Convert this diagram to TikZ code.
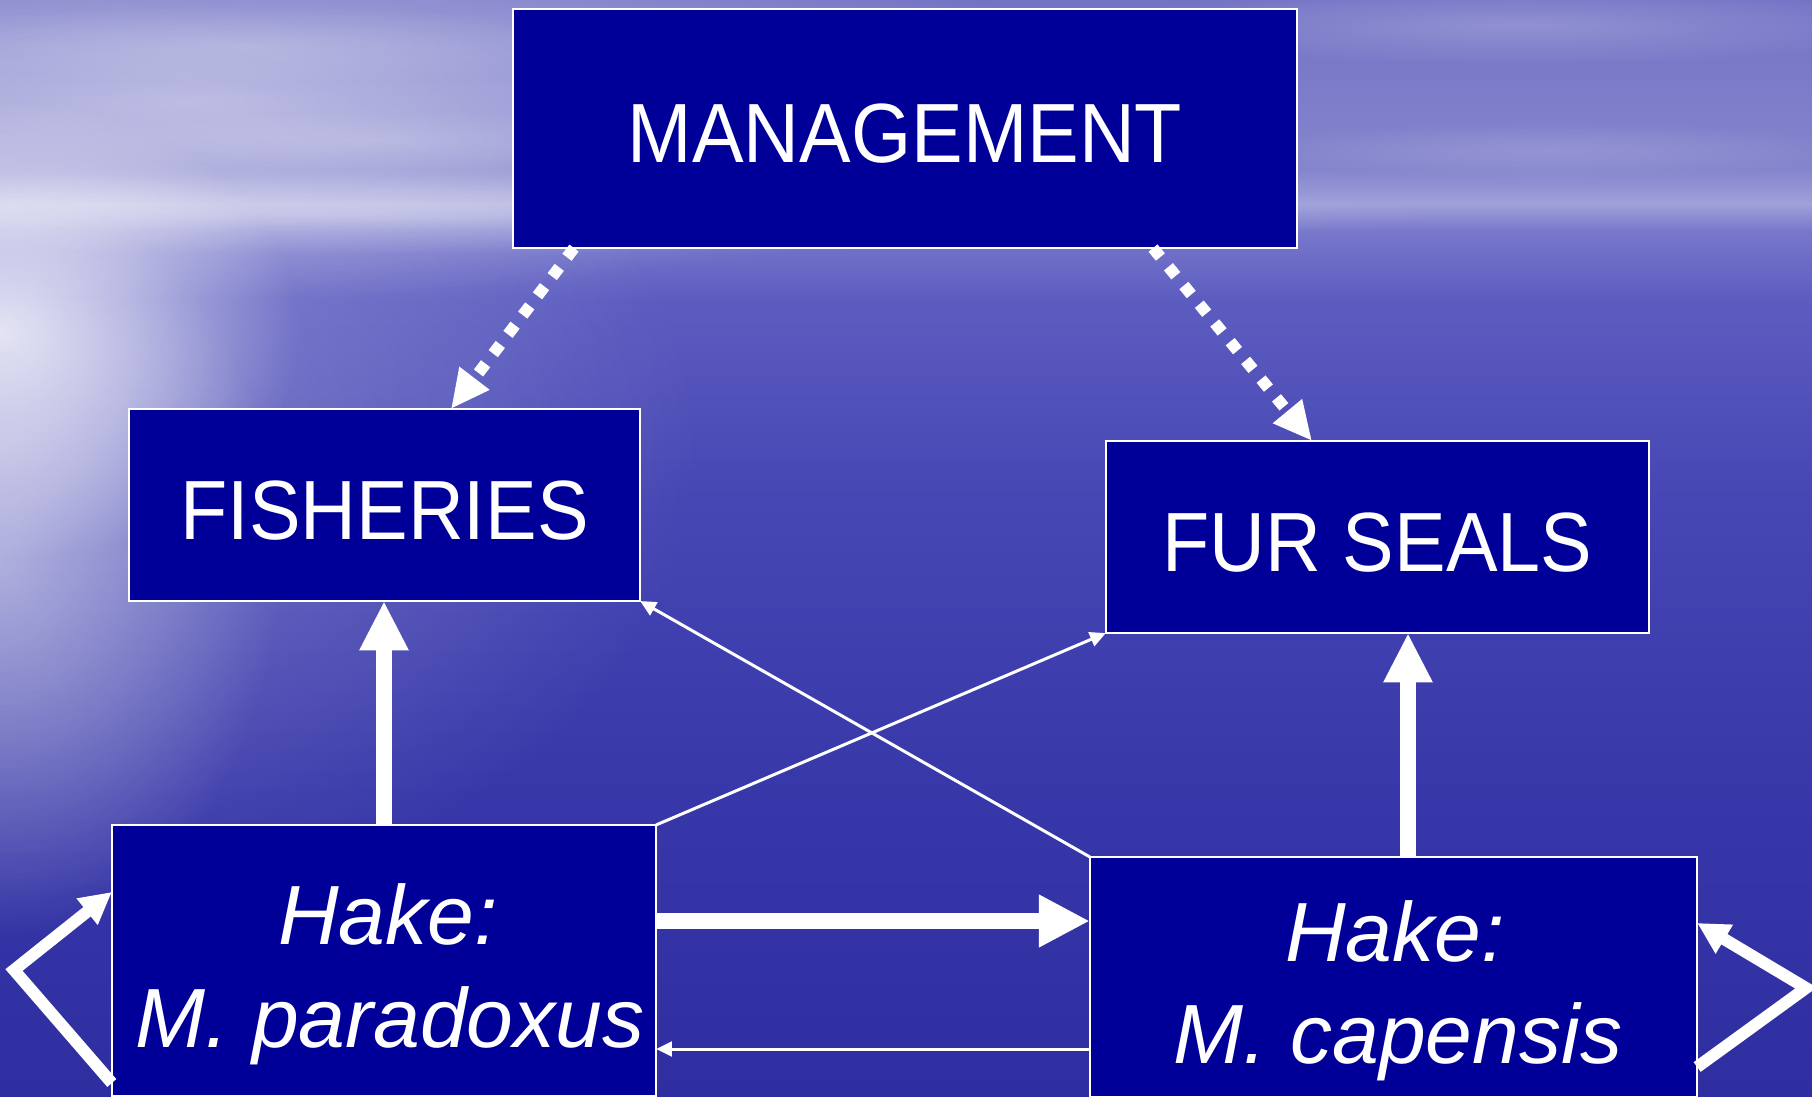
\documentclass[tikz,border=0pt]{standalone}
\usepackage{fontspec}
\setmainfont{Liberation Sans}
\newfontfamily\uprfont[FakeStretch=0.92]{Liberation Sans}
\newfontfamily\hakefont{Liberation Sans}
\usetikzlibrary{arrows.meta,fadings}
\definecolor{boxblue}{RGB}{0,0,153}
\definecolor{sk0}{RGB}{46,46,160}
\definecolor{sk1}{RGB}{55,55,169}
\definecolor{sk2}{RGB}{70,70,180}
\definecolor{sk3}{RGB}{92,92,192}
\definecolor{sk4}{RGB}{120,120,204}
\definecolor{sk5}{RGB}{160,160,218}
\definecolor{sk6}{RGB}{132,132,205}
\definecolor{sk7}{RGB}{115,115,198}
\pgfdeclareverticalshading{seasky}{100bp}{color(0bp)=(sk0); color(25bp)=(sk0); color(38.5bp)=(sk1); color(52.2bp)=(sk2); color(61.3bp)=(sk3); color(64.5bp)=(sk4); color(65.7bp)=(sk5); color(67.3bp)=(sk6); color(75bp)=(sk7); color(100bp)=(sk7)}
\tikzfading[name=glowfade, inner color=transparent!0, outer color=transparent!100]
\tikzset{
  box/.style={draw=white, line width=0.7pt, fill=boxblue, inner sep=0pt, outer sep=0pt, text=white},
  uptext/.style={font={\uprfont\fontsize{23.9pt}{28pt}\selectfont}, text height=0.69cm},
  haketext/.style={text=white, inner sep=0pt, font={\hakefont\itshape\fontsize{23.9pt}{28pt}\selectfont}, anchor=base},
  bigarrow/.style={draw=white, line width=4.3pt, -{Triangle[length=14pt,width=13pt]}},
  loopline/.style={draw=white, line width=3.4pt, line join=miter, -{Triangle[length=9pt,width=9pt]}},
  thinarrow/.style={draw=white, line width=0.85pt, -{Triangle[length=4.5pt,width=4.2pt]}},
  dotarrow/.style={draw=white, line width=3.3pt, dash pattern=on 3.3pt off 3.6pt, -{Triangle[length=11pt,width=10pt]}},
  glow/.style={fill=white, path fading=glowfade}
}
\begin{document}
\begin{tikzpicture}[x=0.01cm, y=-0.01cm]
\useasboundingbox (0,0) rectangle (1812,1097);
% background: sky and sea
\shade[shading=seasky] (0,0) rectangle (1812,1097);
\begin{scope}
\clip (0,0) rectangle (1812,1097);
\fill[glow, opacity=0.45] (200,100) ellipse [x radius=900, y radius=200];
\fill[glow, opacity=0.3] (350,214) ellipse [x radius=1100, y radius=40];
\fill[glow, opacity=0.18] (250,45) ellipse [x radius=380, y radius=40];
\fill[glow, opacity=0.2] (1520,25) ellipse [x radius=400, y radius=40];
\fill[glow, opacity=0.15] (1550,150) ellipse [x radius=320, y radius=30];
\fill[glow, opacity=0.15] (380,140) ellipse [x radius=320, y radius=30];
\fill[glow, opacity=0.75] (0,330) ellipse [x radius=300, y radius=230];
\fill[glow, opacity=0.45] (0,560) ellipse [x radius=280, y radius=380];
\fill[glow, opacity=0.3] (0,450) ellipse [x radius=700, y radius=480];
\end{scope}
% boxes
\node[box, uptext, minimum width=7.84cm, minimum height=2.39cm] (mgmt) at (905,128.5) {MANAGEMENT};
\node[box, uptext, minimum width=5.11cm, minimum height=1.92cm] (fish) at (384.5,505) {FISHERIES};
\node[box, uptext, minimum width=5.43cm, minimum height=1.92cm] (seal) at (1377.5,537) {FUR SEALS};
\node[box, minimum width=5.44cm, minimum height=2.71cm] (par) at (384,960.5) {};
\node[box, minimum width=6.07cm, minimum height=2.40cm] (cap) at (1393.5,977) {};
\node[haketext] (parA) at (388,944) {Hake:};
\node[haketext] (parB) at (390,1047) {M. paradoxus};
\node[haketext] (capA) at (1395,961) {Hake:};
\node[haketext] (capB) at (1398,1063) {M. capensis};
% management links
\draw[dotarrow] (mgmt.south -| 574,0) -- (fish.north -| 451,0);
\draw[dotarrow] (mgmt.south -| 1153,0) -- (seal.north -| 1312,0);
% vertical thick arrows
\draw[bigarrow] (par.north) -- (par.north |- fish.south);
\draw[bigarrow] (cap.north -| 1408,0) -- (seal.south -| 1408,0);
% horizontal arrows
\draw[bigarrow, -{Triangle[length=14.5pt,width=14pt]}] (par.east |- 0,921) -- (cap.west |- 0,921);
\draw[thinarrow] (cap.west |- 0,1049) -- (par.east |- 0,1049);
% crossing arrows
\draw[thinarrow] (par.north east) -- (seal.south west);
\draw[thinarrow] (cap.north west) -- (fish.south east);
% self loops
\coordinate (lc) at (14,970);
\coordinate (rc) at (1806,988);
\draw[loopline] (par.west |- 0,1083) -- (lc) -- (par.west |- 0,892);
\draw[loopline] (cap.east |- 0,1067) -- (rc) -- (cap.east |- 0,923);
\end{tikzpicture}
\end{document}
